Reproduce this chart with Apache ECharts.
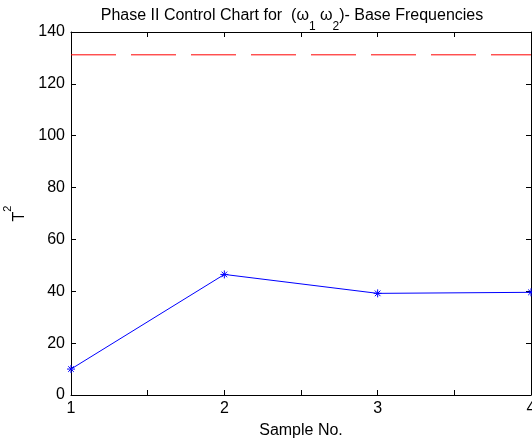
<!DOCTYPE html>
<html><head><meta charset="utf-8">
<script src="https://cdn.jsdelivr.net/npm/echarts@6/dist/echarts.min.js"></script>
<style>html,body{margin:0;padding:0;background:#fff}#c{width:532px;height:442px}</style>
</head><body><div id="c"></div>
<script>
const samples = [1, 2, 3, 4];
const t2Values = [10, 46.5, 39.2, 39.6];
const ucl = 131.2;
const yTicks = [0, 20, 40, 60, 80, 100, 120, 140];

const chart = echarts.init(document.getElementById('c'));
const font = 'Liberation Sans, Arial, sans-serif';
const axisCommon = {
  axisLine: {show: true, onZero: false, lineStyle: {color: '#000', width: 1}},
  axisTick: {show: true, inside: true, length: 5, lineStyle: {color: '#000', width: 1}},
  splitLine: {show: false}
};
chart.setOption({
  animation: false,
  backgroundColor: '#fff',
  title: {
    text: 'Phase II Control Chart for  ({a|ω}{s|1} {a|ω}{s|2})- Base Frequencies',
    left: 287, textAlign: 'center', top: 3,
    textStyle: {
      fontFamily: font, fontSize: 16, fontWeight: 'normal', color: '#000',
      rich: {
        a: {fontFamily: font, fontSize: 16, color: '#000'},
        s: {fontFamily: font, fontSize: 12, color: '#000', verticalAlign: 'bottom', padding: [0, 0, -9, 0]}
      }
    }
  },
  grid: {left: 71, right: 1, top: 32, bottom: 47, containLabel: false, outerBoundsMode: 'none'},
  xAxis: [
    Object.assign({
      type: 'value', min: 1, max: 4, interval: 0.5, position: 'bottom',
      name: 'Sample No.', nameLocation: 'middle', nameGap: 28,
      nameTextStyle: {fontFamily: font, fontSize: 16, color: '#000'},
      axisLabel: {
        fontFamily: font, fontSize: 16, color: '#000', margin: 6,
        formatter: v => (Number.isInteger(v) && samples.includes(v)) ? String(v) : ''
      }
    }, axisCommon),
    Object.assign({
      type: 'value', min: 1, max: 4, interval: 0.5, position: 'top',
      axisLabel: {show: false}
    }, axisCommon)
  ],
  yAxis: [
    Object.assign({
      type: 'value', min: 0, max: 140, interval: 20, position: 'left',
      name: '{b|T}{p|2}', nameLocation: 'middle', nameGap: 40, nameRotate: 90,
      nameTextStyle: {
        fontFamily: font, fontSize: 16, color: '#000',
        rich: {
          b: {fontFamily: font, fontSize: 16, color: '#000'},
          p: {fontFamily: font, fontSize: 11, color: '#000', verticalAlign: 'top', padding: [-9, 0, 0, 0]}
        }
      },
      axisLabel: {
        fontFamily: font, fontSize: 16, color: '#000', margin: 6,
        formatter: v => yTicks.includes(v) ? String(v) : ''
      }
    }, axisCommon),
    Object.assign({
      type: 'value', min: 0, max: 140, interval: 20, position: 'right',
      axisLabel: {show: false}
    }, axisCommon)
  ],
  series: [
    {
      type: 'line', xAxisIndex: 0, yAxisIndex: 0,
      data: samples.map((s, i) => [s, t2Values[i]]),
      symbol: 'path://M0,4 L8,4 M4,0 L4,8 M1.2,1.2 L6.8,6.8 M6.8,1.2 L1.2,6.8',
      symbolSize: 8,
      lineStyle: {color: '#0000ff', width: 1},
      itemStyle: {color: 'none', borderColor: '#0000ff', borderWidth: 1},
      z: 3
    },
    {
      type: 'line', xAxisIndex: 0, yAxisIndex: 0,
      data: [[samples[0], ucl], [samples[samples.length - 1], ucl]],
      symbol: 'none',
      lineStyle: {color: '#ff0000', width: 1, type: [45, 15]},
      z: 2
    }
  ]
});
</script></body></html>
